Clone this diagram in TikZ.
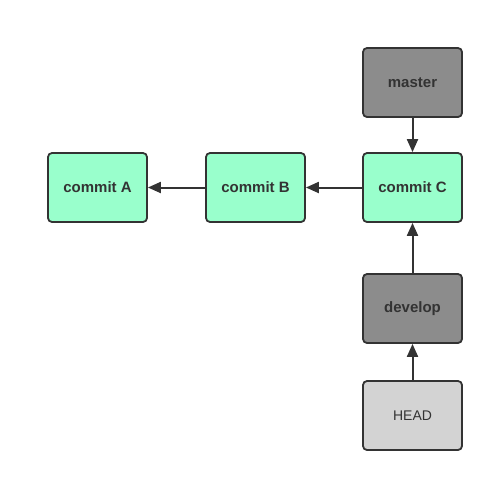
\documentclass[tikz,border=0pt]{standalone}
\usepackage{fontspec}
\setmainfont{Liberation Sans}
\usetikzlibrary{arrows.meta}

\begin{document}
\begin{tikzpicture}[x=1pt,y=-1pt]
    \tikzstyle{every node}=[font=\fontsize{15}{17}\selectfont\bfseries,text=black!80]
    \tikzstyle{box}=[draw=black!80,line width=1.8pt,rounded corners=4pt,minimum width=99pt,minimum height=69pt,inner sep=0pt]
    \tikzstyle{commit}=[box,fill={rgb,255:red,153;green,255;blue,204}]
    \tikzstyle{branch}=[box,fill={rgb,255:red,140;green,140;blue,140}]
    \tikzstyle{pointer}=[draw=black!80,line width=2pt,-{Triangle[length=13pt,width=11pt]}]
    \useasboundingbox[fill=white] (0,0) rectangle (495,483);
    %% commits
    \node at (97.5,187.5) [commit] (commitA) {commit A};
    \node at (255.5,187.5) [commit] (commitB) {commit B};
    \node at (412.5,187.5) [commit] (commitC) {commit C};
    % branches
    \node at (412.5,82.5) [branch] (master) {master};
    \node at (412.5,308.5) [branch] (develop) {develop};
    % HEAD
    \node at (412.5,415.5) [box,fill={rgb,255:red,211;green,211;blue,211},font=\fontsize{14}{16}\selectfont] (HEAD) {HEAD};

    \draw[pointer] (commitC) -- (commitB);
    \draw[pointer] (commitB) -- (commitA);
    \draw[pointer] (master) -- (commitC);
    \draw[pointer] (develop) -- (commitC);
    \draw[pointer] (HEAD) -- (develop);
\end{tikzpicture}
\end{document}
